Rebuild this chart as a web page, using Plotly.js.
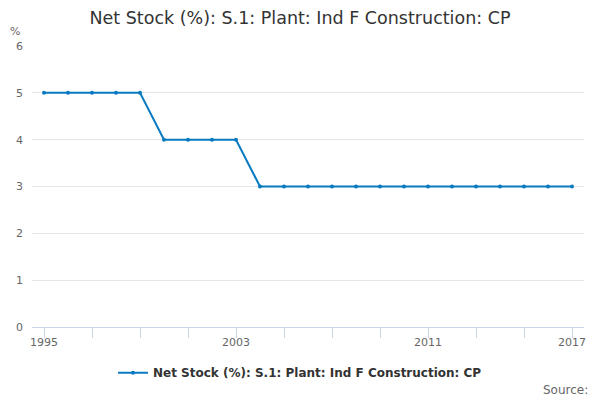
<!DOCTYPE html>
<html>
<head>
<meta charset="utf-8">
<script src="https://cdn.plot.ly/plotly-3.0.1.min.js"></script>
<style>
  html, body { margin: 0; padding: 0; background: #fff; }
  #chart { width: 600px; height: 400px; }
</style>
</head>
<body>
<div id="chart"></div>
<script>
// data
const years = [1995, 1996, 1997, 1998, 1999, 2000, 2001, 2002, 2003, 2004, 2005, 2006,
               2007, 2008, 2009, 2010, 2011, 2012, 2013, 2014, 2015, 2016, 2017];
const netStock = [5, 5, 5, 5, 5, 4, 4, 4, 4, 3, 3, 3,
                  3, 3, 3, 3, 3, 3, 3, 3, 3, 3, 3];
const seriesName = 'Net Stock (%): S.1: Plant: Ind F Construction: CP';
const tickYears = [1995, 1997, 1999, 2001, 2003, 2005, 2007, 2009, 2011, 2013, 2015, 2017];
const labelYears = [1995, 2003, 2011, 2017];

let lineColor = '#0a7bc0';
let fontFam = 'DejaVu Sans, sans-serif';

var trace = {
    type: 'scatter',
    mode: 'lines+markers',
    x: years,
    y: netStock,
    name: seriesName,
    line: {color: lineColor, width: 2},
    marker: {color: lineColor, size: 4},
};

var layout = {
    width: 600,
    height: 400,
    font: {family: fontFam, color: '#666666', size: 11},
    title: {
        text: 'Net Stock (%): S.1: Plant: Ind F Construction: CP',
        font: {family: fontFam, size: 17.5, color: '#333333'},
        x: 0.5, xanchor: 'center',
        y: 0.955, yanchor: 'middle',
    },
    margin: {l: 32, r: 16, t: 46, b: 73},
    paper_bgcolor: '#ffffff',
    plot_bgcolor: '#ffffff',
    showlegend: true,
    legend: {
        orientation: 'h',
        x: 0.4855, xanchor: 'center',
        y: -0.163, yanchor: 'middle',
        font: {family: fontFam, size: 12, color: '#333333', weight: 'bold'},
    },
    xaxis: {
        range: [1994.5, 2017.5],
        tickvals: tickYears,
        ticktext: tickYears.map(y => labelYears.includes(y) ? String(y) : ''),
        ticks: 'outside',
        ticklen: 10,
        tickcolor: '#ccd6eb',
        showline: true,
        linecolor: '#ccd6eb',
        linewidth: 1,
        showgrid: false,
        zeroline: false,
        ticklabelstandoff: -5,
        tickfont: {family: fontFam, size: 11, color: '#666666'},
        fixedrange: true,
    },
    yaxis: {
        range: [0, 6],
        dtick: 1,
        showgrid: true,
        gridcolor: '#e6e6e6',
        zeroline: false,
        showline: false,
        ticks: '',
        ticklabelstandoff: 8,
        tickfont: {family: fontFam, size: 11, color: '#666666'},
        fixedrange: true,
    },
    annotations: [
        {
            text: '%', xref: 'paper', yref: 'paper',
            x: -0.043, y: 1.02, xanchor: 'left', yanchor: 'bottom',
            showarrow: false,
            font: {family: fontFam, size: 11, color: '#666666'},
        },
        {
            text: 'Source:', xref: 'paper', yref: 'paper',
            x: 1.01, y: -0.225, xanchor: 'right', yanchor: 'middle',
            showarrow: false,
            font: {family: fontFam, size: 12, color: '#666666'},
        },
    ],
};

var config = {staticPlot: true, displayModeBar: false};

Plotly.newPlot(document.getElementById('chart'), [trace], layout, config);
</script>
</body>
</html>
